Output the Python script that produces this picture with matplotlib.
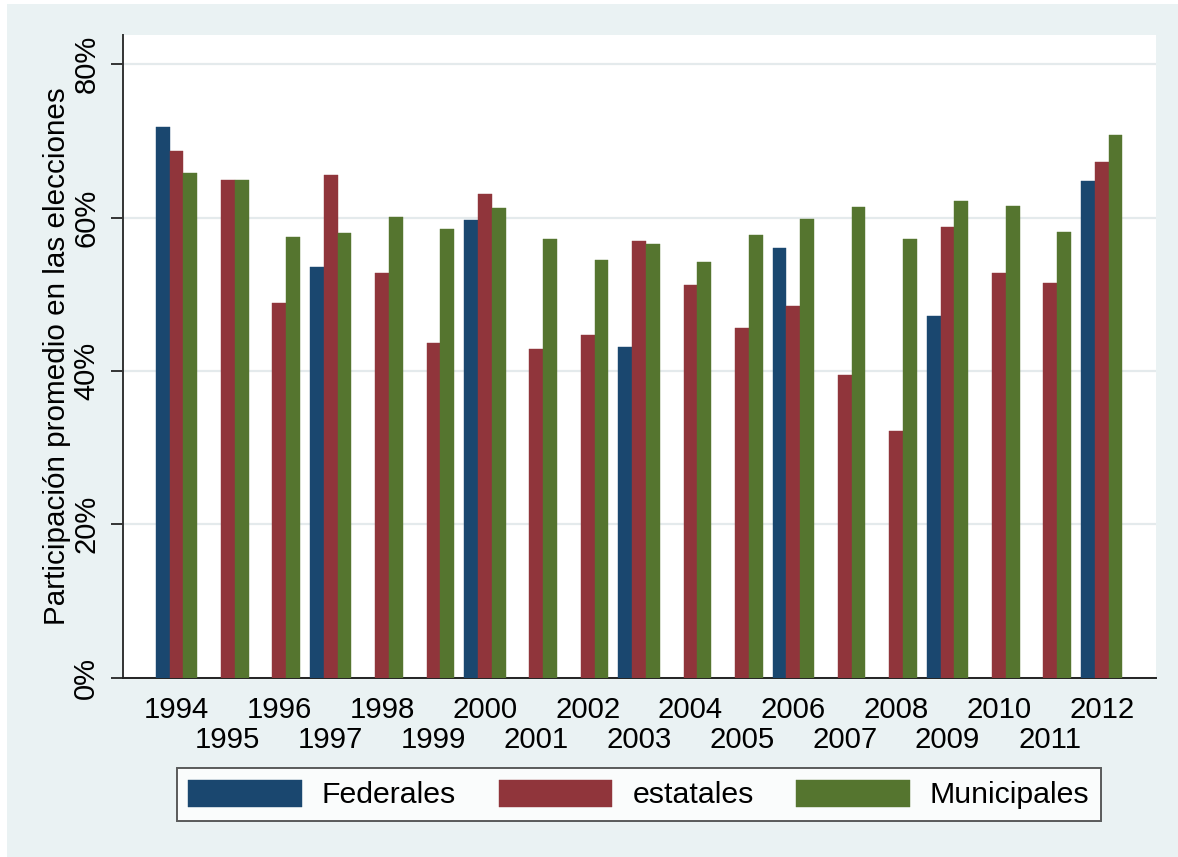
import numpy as np
import matplotlib
matplotlib.use("Agg")
import matplotlib.pyplot as plt
from matplotlib.patches import Rectangle

plt.rcParams['font.family'] = ['Liberation Sans', 'DejaVu Sans']

# datos (participacion promedio, %)
years = [1994, 1995, 1996, 1997, 1998, 1999, 2000, 2001, 2002, 2003,
         2004, 2005, 2006, 2007, 2008, 2009, 2010, 2011, 2012]
federales = [71.8, np.nan, np.nan, 53.6, np.nan, np.nan, 59.7, np.nan, np.nan, 43.1,
             np.nan, np.nan, 56.0, np.nan, np.nan, 47.2, np.nan, np.nan, 64.7]
estatales = [68.7, 64.9, 48.8, 65.6, 52.7, 43.6, 63.1, 42.8, 44.7, 56.9,
             51.2, 45.6, 48.5, 39.4, 32.1, 58.7, 52.7, 51.4, 67.2]
municipales = [65.8, 64.9, 57.5, 58.0, 60.1, 58.5, 61.2, 57.2, 54.5, 56.6,
               54.2, 57.7, 59.8, 61.4, 57.2, 62.2, 61.5, 58.1, 70.7]
yticks = [0, 20, 40, 60, 80]

series = [("Federales", federales, "#1a476f"),
          ("estatales", estatales, "#90353b"),
          ("Municipales", municipales, "#55752f")]

W, H = 1178, 857
bg = "#eaf2f3"
fig = plt.figure(figsize=(W / 100, H / 100), dpi=100, facecolor="white")
fig.patches.append(Rectangle((7 / W, 0), 1 - 7 / W, 1 - 4 / H, transform=fig.transFigure,
                             facecolor=bg, edgecolor="none", zorder=-10))

ax = fig.add_axes([122.7 / W, 1 - 677.6 / H, (1156 - 122.7) / W, (677.6 - 35) / H])
ax.set_facecolor("white")

x = np.arange(len(years))
w = 0.268
handles = []
for k, (name, vals, col) in enumerate(series):
    vals = np.array(vals, dtype=float)
    ok = ~np.isnan(vals)
    b = ax.bar(x[ok] + (k - 1) * w, vals[ok], width=w, color=col, edgecolor=col,
               linewidth=0.3, label=name, zorder=3)
    handles.append(b)

ax.set_xlim(-1.047, len(years) - 1 + 1.056)
ax.set_ylim(0, 83.8)

ax.set_yticks(yticks)
ax.set_yticklabels(["%d%%" % v for v in yticks])
ax.grid(axis="y", color="#e4eaec", linewidth=1.6, zorder=0)
ax.tick_params(axis="y", length=8.6, width=1.4, color="#333333", pad=7.5,
               labelsize=21.0, labelrotation=90)
for lab in ax.get_yticklabels():
    lab.set_va("center")

# anos pares arriba, impares abajo
ax.set_xticks(x[::2])
ax.set_xticklabels([str(y) for y in years[::2]])
ax.set_xticks(x[1::2], minor=True)
ax.set_xticklabels([str(y) for y in years[1::2]], minor=True)
ax.tick_params(axis="x", which="major", length=0, pad=13.5, labelsize=21.2)
ax.tick_params(axis="x", which="minor", length=0, pad=35.0, labelsize=21.2)

for s in ["top", "right"]:
    ax.spines[s].set_visible(False)
ax.spines["left"].set_color("#333333")
ax.spines["left"].set_linewidth(1.4)
ax.spines["bottom"].set_color("#222222")
ax.spines["bottom"].set_linewidth(1.4)

ax.set_ylabel("Participación promedio en las elecciones", fontsize=21.3, labelpad=1)

lgd = fig.legend(handles=handles, loc="center", ncol=3,
                 bbox_to_anchor=(639 / W, 1 - 794.5 / H), fontsize=21.8,
                 frameon=True, fancybox=False, edgecolor="#333333",
                 handlelength=3.74, handleheight=1.0, handletextpad=0.67,
                 columnspacing=1.41, borderpad=0.38)
lgd.get_frame().set_linewidth(1.4)

fig.savefig("out.png", dpi=100, facecolor=fig.get_facecolor())
